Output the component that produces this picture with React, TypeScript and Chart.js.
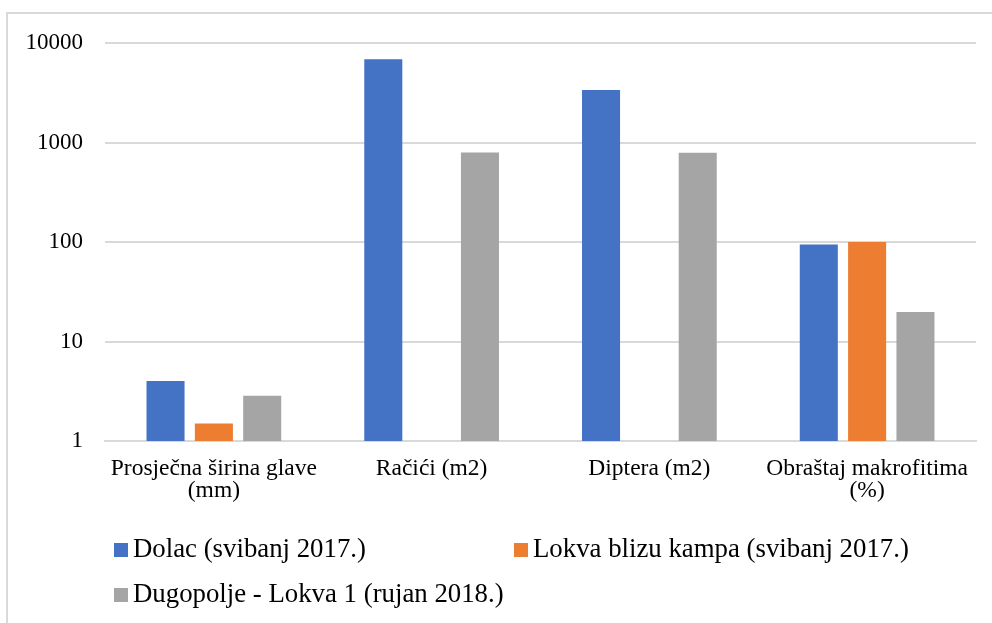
import React, { useEffect, useRef } from "react";
import { Chart, registerables } from "chart.js";

Chart.register(...registerables);

const categories: string[][] = [
  ["Prosječna širina glave", "(mm)"],
  ["Račići (m2)"],
  ["Diptera (m2)"],
  ["Obraštaj makrofitima", "(%)"],
];

const seriesNames = [
  "Dolac (svibanj 2017.)",
  "Lokva blizu kampa (svibanj 2017.)",
  "Dugopolje - Lokva 1 (rujan 2018.)",
];

const dolac: (number | null)[] = [4.0, 6850, 3370, 94.5];
const lokvaKamp: (number | null)[] = [1.5, null, null, 100];
const dugopolje: (number | null)[] = [2.85, 795, 790, 19.8];

const yTicks = [1, 10, 100, 1000, 10000];

const colors = ["#4472C4", "#ED7D31", "#A5A5A5"];

const FONT = "'Liberation Serif', 'Times New Roman', serif";

const framePlugin = {
  id: "frame",
  beforeDraw(chart: any) {
    const ctx = chart.ctx;
    ctx.save();
    ctx.strokeStyle = "#d9d9d9";
    ctx.lineWidth = 2;
    ctx.beginPath();
    ctx.moveTo(7, chart.height);
    ctx.lineTo(7, 13);
    ctx.lineTo(chart.width, 13);
    ctx.stroke();
    ctx.restore();
  },
};

const legendPlugin = {
  id: "customLegend",
  afterDraw(chart: any) {
    const ctx = chart.ctx;
    const slots = [
      { x: 114, y: 550 },
      { x: 514, y: 550 },
      { x: 114, y: 595 },
    ];
    ctx.save();
    ctx.font = `26.8px ${FONT}`;
    ctx.textBaseline = "middle";
    ctx.textAlign = "left";
    chart.data.datasets.forEach((ds: any, i: number) => {
      const s = slots[i];
      ctx.fillStyle = ds.backgroundColor;
      ctx.fillRect(s.x, s.y - 7, 14, 14);
      ctx.fillStyle = "#000000";
      ctx.fillText(ds.label, s.x + 19, s.y);
    });
    ctx.restore();
  },
};

export default function App() {
  const ref = useRef<HTMLCanvasElement | null>(null);

  useEffect(() => {
    document.body.style.margin = "0";
    if (!ref.current) return;
    const chart = new Chart(ref.current, {
      type: "bar",
      data: {
        labels: categories,
        datasets: [
          { label: seriesNames[0], data: dolac, backgroundColor: colors[0] },
          { label: seriesNames[1], data: lokvaKamp, backgroundColor: colors[1] },
          { label: seriesNames[2], data: dugopolje, backgroundColor: colors[2] },
        ],
      },
      options: {
        responsive: false,
        animation: false,
        layout: { padding: { top: 43, right: 16, left: 0, bottom: 0 } },
        datasets: {
          bar: { categoryPercentage: 0.666, barPercentage: 0.787 },
        },
        plugins: {
          legend: { display: false },
          tooltip: { enabled: false },
        },
        scales: {
          x: {
            grid: { display: false, drawTicks: false },
            border: { display: true, color: "#d9d9d9", width: 2 },
            ticks: {
              color: "#000000",
              font: { family: FONT, size: 23.5, lineHeight: "22px" },
              padding: 17,
              maxRotation: 0,
              autoSkip: false,
            },
            afterFit: (scale: any) => {
              scale.height = 182;
            },
          },
          y: {
            type: "logarithmic",
            min: 1,
            max: 10000,
            grid: { color: "#d9d9d9", lineWidth: 2, drawTicks: false },
            border: { display: false },
            ticks: {
              color: "#000000",
              font: { family: FONT, size: 23 },
              padding: 22,
              callback: (v: any) => String(v),
            },
            afterBuildTicks: (scale: any) => {
              scale.ticks = yTicks.map((v) => ({ value: v }));
            },
            afterFit: (scale: any) => {
              scale.width = 105;
            },
          },
        },
      },
      plugins: [framePlugin, legendPlugin],
    });
    return () => chart.destroy();
  }, []);

  return (
    <div style={{ width: 992, height: 623, background: "#ffffff" }}>
      <canvas ref={ref} width={992} height={623} />
    </div>
  );
}
